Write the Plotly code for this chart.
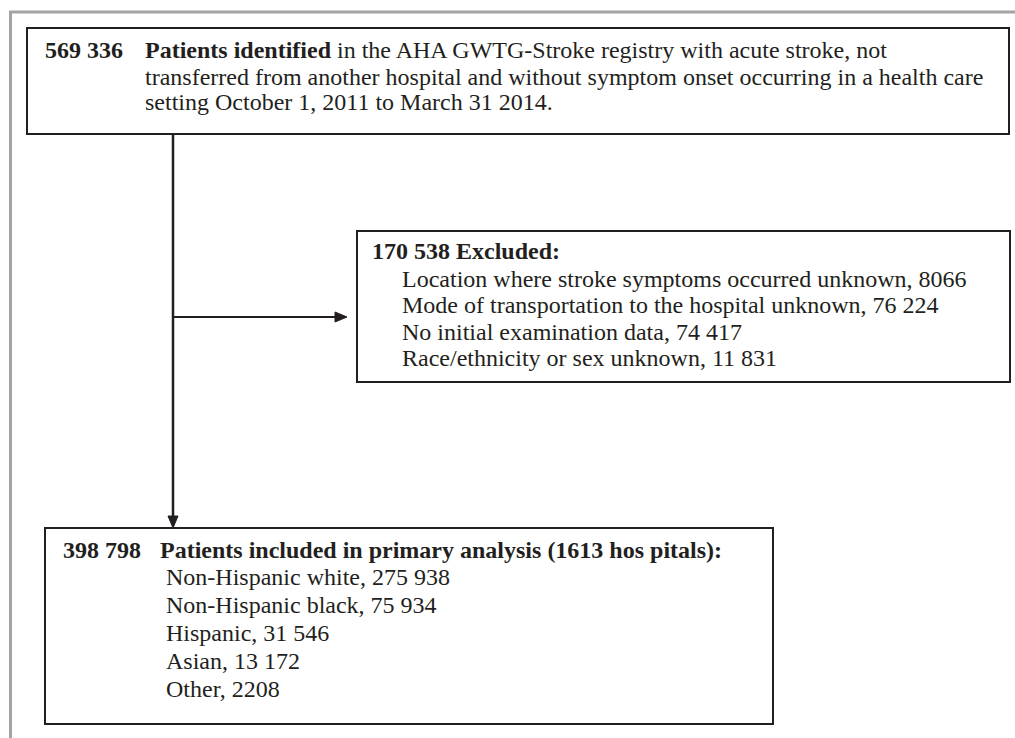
import plotly.graph_objects as go

# ---- Data (texts of the flow chart) ----
top_count = "569 336"
top_lines = [
    "<b>Patients identified</b> in the AHA GWTG-Stroke registry with acute stroke, not",
    "transferred from another hospital and without symptom onset occurring in a health care",
    "setting October 1, 2011 to March 31 2014.",
]
excl_title = "<b>170 538 Excluded:</b>"
excl_items = [
    "Location where stroke symptoms occurred unknown, 8066",
    "Mode of transportation to the hospital unknown, 76 224",
    "No initial examination data, 74 417",
    "Race/ethnicity or sex unknown, 11 831",
]
incl_count = "398 798"
incl_title = "<b>Patients included in primary analysis (1613 hos pitals):</b>"
incl_items = [
    "Non-Hispanic white, 275 938",
    "Non-Hispanic black, 75 934",
    "Hispanic, 31 546",
    "Asian, 13 172",
    "Other, 2208",
]

# ---- Layout constants (page pixel coordinates) ----
W, H = 1015, 738
FONT = "Liberation Serif, Times New Roman, serif"
FS = 24
INK = "#231f20"
FRAME = "#a3a3a3"

TOP_BOX = (27, 28, 1009, 134)
TOP_Y = [50, 77, 102]
EXCL_BOX = (357, 231, 1010, 382)
EXCL_Y0, EXCL_DY = 279, 26.3
INCL_BOX = (45, 528, 773, 724)
INCL_Y0, INCL_DY = 577, 28
STEM_X = 173
BRANCH_Y = 317

fig = go.Figure()
fig.add_trace(go.Scatter(x=[0, W], y=[0, H], mode="markers",
                         marker=dict(opacity=0), hoverinfo="skip", showlegend=False))

shapes = []
# outer grey frame (top and left edges)
shapes.append(dict(type="line", x0=9, y0=12, x1=W + 5, y1=12, line=dict(color=FRAME, width=3)))
shapes.append(dict(type="line", x0=10.5, y0=11, x1=10.5, y1=H + 5, line=dict(color=FRAME, width=3)))

for (x0, y0, x1, y1) in (TOP_BOX, EXCL_BOX, INCL_BOX):
    shapes.append(dict(type="rect", x0=x0, y0=y0, x1=x1, y1=y1,
                       line=dict(color=INK, width=2), fillcolor="rgba(0,0,0,0)"))

# vertical stem with arrowhead
tip_y = INCL_BOX[1]
shapes.append(dict(type="line", x0=STEM_X, y0=TOP_BOX[3], x1=STEM_X, y1=tip_y - 10,
                   line=dict(color=INK, width=2.5)))
shapes.append(dict(type="path",
                   path=f"M {STEM_X-5},{tip_y-12} L {STEM_X+5},{tip_y-12} L {STEM_X},{tip_y} Z",
                   fillcolor=INK, line=dict(color=INK, width=1)))
# horizontal branch with arrowhead
tip_x = EXCL_BOX[0] - 10
shapes.append(dict(type="line", x0=STEM_X, y0=BRANCH_Y, x1=tip_x - 10, y1=BRANCH_Y,
                   line=dict(color=INK, width=2)))
shapes.append(dict(type="path",
                   path=f"M {tip_x-12},{BRANCH_Y-5} L {tip_x-12},{BRANCH_Y+5} L {tip_x},{BRANCH_Y} Z",
                   fillcolor=INK, line=dict(color=INK, width=1)))

ann = []
def txt(x, y, s):
    ann.append(dict(x=x, y=y, text=s, xref="x", yref="y", xanchor="left", yanchor="middle",
                    showarrow=False, borderpad=0, borderwidth=0,
                    font=dict(family=FONT, size=FS, color=INK)))

txt(45, TOP_Y[0], f"<b>{top_count}</b>")
for y, s in zip(TOP_Y, top_lines):
    txt(145, y, s)

txt(372, 251, excl_title)
for i, s in enumerate(excl_items):
    txt(402, EXCL_Y0 + i * EXCL_DY, s)

txt(63, 550, f"<b>{incl_count}</b>")
txt(160, 550, incl_title)
for i, s in enumerate(incl_items):
    txt(166, INCL_Y0 + i * INCL_DY, s)

fig.update_layout(
    width=W, height=H, margin=dict(l=0, r=0, t=0, b=0),
    paper_bgcolor="white", plot_bgcolor="white",
    xaxis=dict(range=[0, W], visible=False, fixedrange=True),
    yaxis=dict(range=[H, 0], visible=False, fixedrange=True),
    shapes=shapes, annotations=ann, showlegend=False,
)
fig.write_html(
    "out.html",
    config={"displayModeBar": False},
    post_script="document.body.style.margin='0';document.body.style.overflow='hidden';",
)
